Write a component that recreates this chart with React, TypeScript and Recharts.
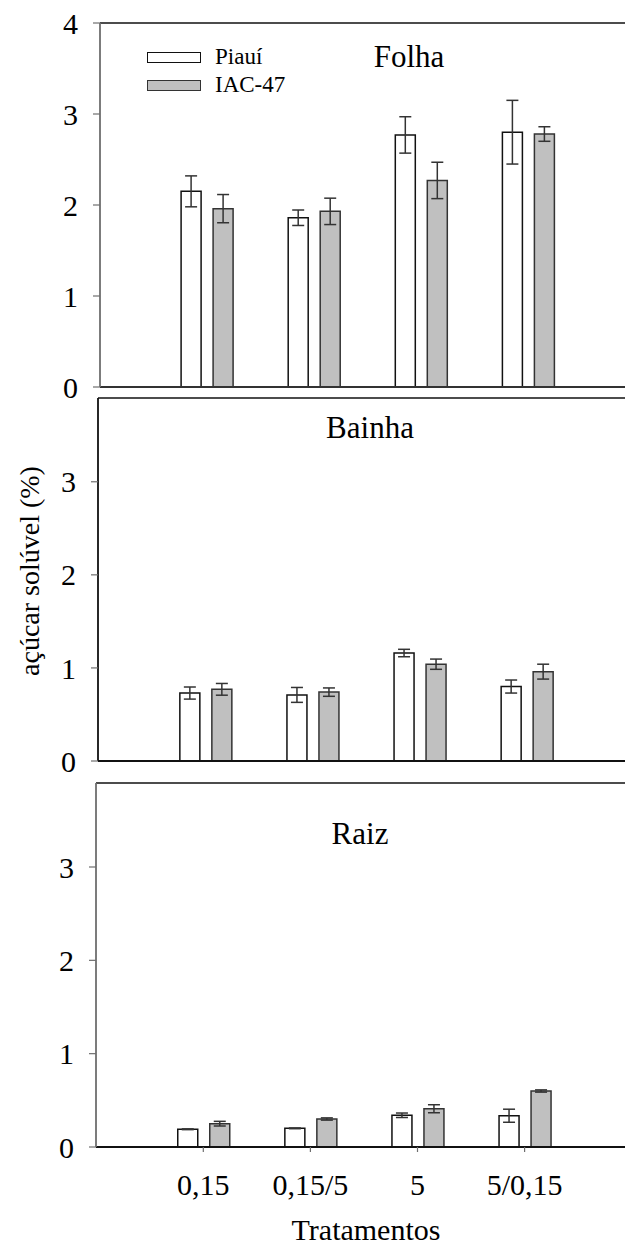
import { Bar, BarChart, ErrorBar, Legend, ReferenceLine, XAxis, YAxis } from "recharts";

const SERIF = '"Liberation Serif", "Times New Roman", serif';
const WHITE = "#ffffff";
const GRAY = "#c0c0c0";
const INK = "#000000";
const AXIS_GRAY = "#6e6e6e";

const TREATMENTS = ["0,15", "0,15/5", "5", "5/0,15"];

// Folha
const FOLHA_PIAUI = [2.15, 1.86, 2.77, 2.8];
const FOLHA_PIAUI_ERR = [0.17, 0.085, 0.2, 0.35];
const FOLHA_IAC = [1.96, 1.93, 2.27, 2.78];
const FOLHA_IAC_ERR = [0.155, 0.145, 0.2, 0.08];

// Bainha
const BAINHA_PIAUI = [0.73, 0.71, 1.16, 0.8];
const BAINHA_PIAUI_ERR = [0.065, 0.08, 0.04, 0.07];
const BAINHA_IAC = [0.77, 0.74, 1.04, 0.96];
const BAINHA_IAC_ERR = [0.063, 0.045, 0.055, 0.08];

// Raiz
const RAIZ_PIAUI = [0.19, 0.2, 0.34, 0.335];
const RAIZ_PIAUI_ERR = [0.004, 0.004, 0.024, 0.07];
const RAIZ_IAC = [0.25, 0.3, 0.41, 0.6];
const RAIZ_IAC_ERR = [0.025, 0.012, 0.043, 0.012];

const SERIES = [
  { key: "piaui", name: "Piauí", fill: WHITE, stroke: "#111" },
  { key: "iac", name: "IAC-47", fill: GRAY, stroke: "#333" },
];

function buildRows(piaui: number[], piauiErr: number[], iac: number[], iacErr: number[]) {
  return TREATMENTS.map((t, i) => ({
    t,
    piaui: piaui[i],
    piauiErr: piauiErr[i],
    iac: iac[i],
    iacErr: iacErr[i],
  }));
}

function LegendBox() {
  return (
    <div style={{ fontFamily: SERIF, fontSize: 23, color: INK }}>
      {SERIES.map((s) => (
        <div key={s.key} style={{ display: "flex", alignItems: "center", height: 28, lineHeight: "28px" }}>
          <span
            style={{
              display: "inline-block",
              width: 52,
              height: 9,
              background: s.fill,
              border: `1.5px solid ${s.stroke}`,
              marginRight: 14,
            }}
          />
          <span>{s.name}</span>
        </div>
      ))}
    </div>
  );
}

interface PanelProps {
  data: ReturnType<typeof buildRows>;
  top: number;
  height: number;
  marginTop: number;
  axisX: number;
  xAxisHeight: number;
  padLeft: number;
  padRight: number;
  yMax: number;
  yTicks: number[];
  showTreatments?: boolean;
  leftAxisColor: string;
  bottomAxisColor: string;
  withLegend?: boolean;
}

function Panel(p: PanelProps) {
  return (
    <div style={{ position: "absolute", left: 0, top: p.top }}>
      <BarChart
        width={625}
        height={p.height}
        data={p.data}
        barGap={12}
        margin={{ top: p.marginTop, right: 0, bottom: 0, left: 0 }}
      >
        <XAxis
          dataKey="t"
          height={p.xAxisHeight}
          padding={{ left: p.padLeft, right: p.padRight }}
          interval={0}
          tickSize={5}
          tickMargin={22}
          tickLine={{ stroke: AXIS_GRAY, strokeWidth: 1.2 }}
          axisLine={{ stroke: p.bottomAxisColor, strokeWidth: 1.8 }}
          tick={p.showTreatments ? { fill: INK, fontSize: 30, fontFamily: SERIF } : false}
        />
        <YAxis
          type="number"
          width={p.axisX}
          domain={[0, p.yMax]}
          ticks={p.yTicks}
          interval={0}
          tickSize={7}
          tickMargin={15}
          tickLine={{ stroke: AXIS_GRAY, strokeWidth: 1.2 }}
          axisLine={{ stroke: p.leftAxisColor, strokeWidth: 1.8 }}
          tick={{ fill: INK, fontSize: 30, fontFamily: SERIF }}
        />
        {/* frame line across the top of each panel */}
        <ReferenceLine y={p.yMax} stroke="#111" strokeWidth={1.5} />
        {SERIES.map((s) => (
          <Bar
            key={s.key}
            dataKey={s.key}
            name={s.name}
            fill={s.fill}
            stroke={s.stroke}
            strokeWidth={1.5}
            barSize={20}
            isAnimationActive={false}
          >
            <ErrorBar dataKey={`${s.key}Err`} width={6} stroke="#333" strokeWidth={1.5} isAnimationActive={false} />
          </Bar>
        ))}
        {p.withLegend && (
          <Legend
            layout="vertical"
            align="center"
            verticalAlign="middle"
            wrapperStyle={{ top: 43, left: 147, width: "auto", height: "auto" }}
            content={() => <LegendBox />}
          />
        )}
      </BarChart>
    </div>
  );
}

const titleStyle = (x: number, top: number, size = 31): React.CSSProperties => ({
  position: "absolute",
  left: x,
  top,
  transform: "translateX(-50%)",
  fontFamily: SERIF,
  fontSize: size,
  lineHeight: 0.9,
  color: INK,
  whiteSpace: "nowrap",
});

export default function App() {
  return (
    <div
      style={{
        position: "absolute",
        left: 0,
        top: 0,
        width: 625,
        height: 1249,
        background: "#fff",
        overflow: "hidden",
        fontFamily: SERIF,
      }}
    >
      <Panel
        data={buildRows(FOLHA_PIAUI, FOLHA_PIAUI_ERR, FOLHA_IAC, FOLHA_IAC_ERR)}
        top={0}
        height={409}
        marginTop={23}
        axisX={100}
        xAxisHeight={22}
        padLeft={53.1}
        padRight={43.5}
        yMax={4}
        yTicks={[0, 1, 2, 3, 4]}
        leftAxisColor={AXIS_GRAY}
        bottomAxisColor="#333"
        withLegend
      />
      <Panel
        data={buildRows(BAINHA_PIAUI, BAINHA_PIAUI_ERR, BAINHA_IAC, BAINHA_IAC_ERR)}
        top={388}
        height={395}
        marginTop={10}
        axisX={98}
        xAxisHeight={22}
        padLeft={53.85}
        padRight={44.75}
        yMax={3.9}
        yTicks={[0, 1, 2, 3]}
        leftAxisColor="#111"
        bottomAxisColor="#111"
      />
      <Panel
        data={buildRows(RAIZ_PIAUI, RAIZ_PIAUI_ERR, RAIZ_IAC, RAIZ_IAC_ERR)}
        top={773}
        height={434}
        marginTop={10}
        axisX={96}
        xAxisHeight={60}
        padLeft={53.75}
        padRight={46.85}
        yMax={3.9}
        yTicks={[0, 1, 2, 3]}
        showTreatments
        leftAxisColor={AXIS_GRAY}
        bottomAxisColor="#111"
      />

      <div style={titleStyle(409, 43)}>Folha</div>
      <div style={titleStyle(370, 414)}>Bainha</div>
      <div style={titleStyle(360, 820)}>Raiz</div>

      <div
        style={{
          position: "absolute",
          left: 30,
          top: 571,
          transform: "translate(-50%, -50%) rotate(-90deg)",
          fontFamily: SERIF,
          fontSize: 28,
          lineHeight: 1,
          whiteSpace: "nowrap",
          color: INK,
        }}
      >
        açúcar solúvel (%)
      </div>
      <div style={titleStyle(366, 1216, 30)}>Tratamentos</div>
    </div>
  );
}
